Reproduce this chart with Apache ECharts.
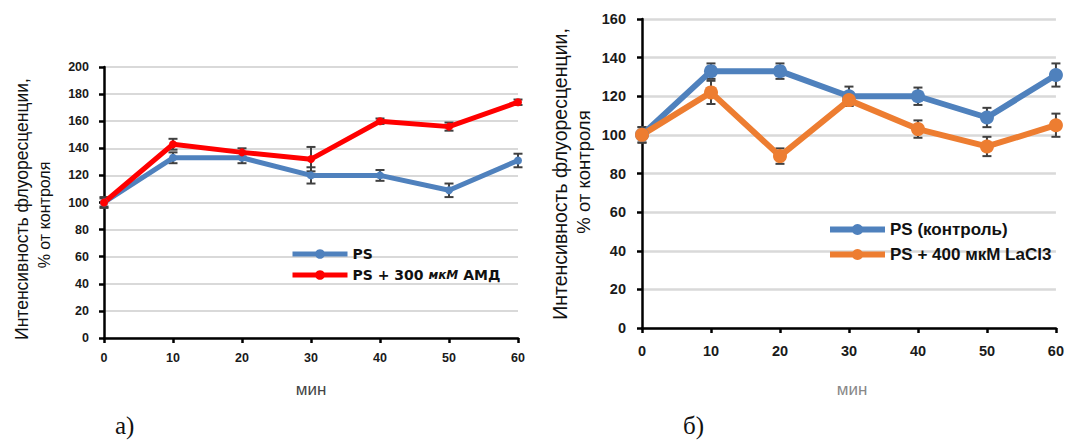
<!DOCTYPE html>
<html><head><meta charset="utf-8">
<script src="https://cdn.jsdelivr.net/npm/echarts@6/dist/echarts.min.js"></script>
<style>html,body{margin:0;padding:0;background:#fff}#c{width:1067px;height:440px}</style>
</head><body><div id="c"></div>
<script>
const minutes = [0, 10, 20, 30, 40, 50, 60];
const xTicks = ['0','10','20','30','40','50','60'];
// Panel a
const aNames = ['PS', 'PS + 300 мкМ АМД'];
const aPS = [100, 133, 133, 120, 120, 109, 131];
const aPSerr = [4, 4, 4, 6, 4, 5, 5];
const aAMD = [100, 143, 137, 132, 160, 156, 174];
const aAMDerr = [3, 4, 3, 9, 2, 3, 2];
// Panel b
const bNames = ['PS (контроль)', 'PS + 400 мкМ LaCl3'];
const bPS = [100, 133, 133, 120, 120, 109, 131];
const bPSerr = [4, 4, 4, 5, 4.5, 5, 6];
const bLa = [100, 122, 89, 118, 103, 94, 105];
const bLaerr = [4, 6, 4, 3, 4.5, 5, 6];

const yTitle1 = 'Интенсивность флуоресценции,';
const yTitle2 = '% от контроля';
const xTitle = 'мин';

const pts = (v) => minutes.map((m, i) => [m, v[i]]);
const errPts = (v, e) => minutes.map((m, i) => [m, v[i], e[i]]);

function errRender(params, api) {
  const x = api.value(0), y = api.value(1), e = api.value(2);
  const t = api.coord([x, y + e]), b = api.coord([x, y - e]);
  const w = 4.5;
  const st = {stroke: '#404040', lineWidth: 2};
  return {type: 'group', children: [
    {type: 'line', shape: {x1: t[0], y1: t[1], x2: b[0], y2: b[1]}, style: st},
    {type: 'line', shape: {x1: t[0]-w, y1: t[1], x2: t[0]+w, y2: t[1]}, style: st},
    {type: 'line', shape: {x1: b[0]-w, y1: b[1], x2: b[0]+w, y2: b[1]}, style: st}
  ]};
}

function xAxis(gi, fs, margin) {
  return {gridIndex: gi, type: 'value', min: 0, max: 60, interval: 10,
    axisLine: {lineStyle: {color: '#000', width: 2.5}},
    axisTick: {show: true, length: 5, lineStyle: {color: '#000', width: 2.5}},
    axisLabel: {color: '#1a1a1a', fontSize: fs, fontWeight: 'bold', fontFamily: 'Liberation Sans, Arial', margin: margin,
      formatter: (v) => xTicks[minutes.indexOf(v)]},
    splitLine: {show: false}};
}
function yAxis(gi, max, fs, margin, gw) {
  return {gridIndex: gi, type: 'value', min: 0, max: max, interval: 20,
    axisLine: {show: true, lineStyle: {color: '#000', width: 2.5}},
    axisTick: {show: true, length: 5, lineStyle: {color: '#000', width: 2.5}},
    axisLabel: {color: '#1a1a1a', fontSize: fs, fontWeight: 'bold', fontFamily: 'Liberation Sans, Arial', margin: margin},
    splitLine: {show: true, lineStyle: {color: '#d9d9d9', width: gw}}};
}
function lineS(name, gi, data, color, lw, sym) {
  return {name: name, type: 'line', xAxisIndex: gi, yAxisIndex: gi, data: data,
    symbol: 'circle', symbolSize: sym, lineStyle: {color: color, width: lw},
    itemStyle: {color: color}, z: 5, clip: false, animation: false};
}
function errS(gi, data) {
  return {type: 'custom', xAxisIndex: gi, yAxisIndex: gi, data: data, renderItem: errRender, z: 3, clip: false, animation: false, silent: true};
}

const chart = echarts.init(document.getElementById('c'), null, {renderer: 'svg'});
chart.setOption({
  animation: false,
  backgroundColor: '#fff',
  grid: [
    {left: 104, top: 67, width: 414, height: 271},
    {left: 642, top: 19, width: 418, height: 309}
  ],
  xAxis: [xAxis(0, 12.5, 13), xAxis(1, 14.5, 15)],
  yAxis: [yAxis(0, 200, 12.5, 15, 2), yAxis(1, 160, 14.5, 16, 2.5)],
  legend: [
    {data: aNames, orient: 'vertical', left: 285, top: 242, itemWidth: 55, itemHeight: 12, itemGap: 7,
     lineStyle: {width: 5}, itemStyle: {borderWidth: 0},
     textStyle: {color: '#111', fontSize: 14, fontWeight: 'bold', fontFamily: 'DejaVu Sans',
       rich: {i: {fontStyle: 'italic', fontSize: 12, fontWeight: 'bold', color: '#111', fontFamily: 'DejaVu Sans'}}},
     formatter: (n) => n === aNames[1] ? 'PS + 300 {i|мкМ} АМД' : n},
    {data: bNames, orient: 'vertical', left: 822, top: 216, itemWidth: 55, itemHeight: 14, itemGap: 8,
     lineStyle: {width: 6}, itemStyle: {borderWidth: 0},
     textStyle: {color: '#111', fontSize: 17, fontWeight: 'bold', fontFamily: 'Liberation Sans, Arial'}}
  ],
  series: [
    errS(0, errPts(aPS, aPSerr)),
    errS(0, errPts(aAMD, aAMDerr)),
    lineS(aNames[0], 0, pts(aPS), '#4f81bd', 5, 8),
    lineS(aNames[1], 0, pts(aAMD), '#ff0000', 5, 8),
    errS(1, errPts(bPS, bPSerr)),
    errS(1, errPts(bLa, bLaerr)),
    lineS(bNames[0], 1, pts(bPS), '#4f81bd', 6, 14),
    lineS(bNames[1], 1, pts(bLa), '#ed7d31', 6, 14)
  ],
  graphic: [
    {type: 'text', x: 22, y: 209, rotation: Math.PI/2, style: {text: yTitle1, fill: '#111', fontSize: 17.5, fontFamily: 'Liberation Sans, Arial', align: 'center', verticalAlign: 'middle'}},
    {type: 'text', x: 44, y: 215, rotation: Math.PI/2, style: {text: yTitle2, fill: '#111', fontSize: 16, fontFamily: 'Liberation Sans, Arial', align: 'center', verticalAlign: 'middle'}},
    {type: 'text', x: 560, y: 174, rotation: Math.PI/2, style: {text: yTitle1, fill: '#111', fontSize: 19.5, fontFamily: 'Liberation Sans, Arial', align: 'center', verticalAlign: 'middle'}},
    {type: 'text', x: 583, y: 172, rotation: Math.PI/2, style: {text: yTitle2, fill: '#111', fontSize: 18.5, fontFamily: 'Liberation Sans, Arial', align: 'center', verticalAlign: 'middle'}},
    {type: 'text', x: 311, y: 389, style: {text: xTitle, fill: '#444', fontSize: 17, fontFamily: 'Liberation Sans, Arial', align: 'center', verticalAlign: 'middle'}},
    {type: 'text', x: 852, y: 389, style: {text: xTitle, fill: '#888', fontSize: 17, fontFamily: 'Liberation Sans, Arial', align: 'center', verticalAlign: 'middle'}},
    {type: 'text', x: 115, y: 425, style: {text: 'а)', fill: '#111', fontSize: 25, fontFamily: 'Liberation Serif, Times New Roman', align: 'left', verticalAlign: 'middle'}},
    {type: 'text', x: 683, y: 425, style: {text: 'б)', fill: '#111', fontSize: 25, fontFamily: 'Liberation Serif, Times New Roman', align: 'left', verticalAlign: 'middle'}}
  ]
});
</script>
</body></html>
